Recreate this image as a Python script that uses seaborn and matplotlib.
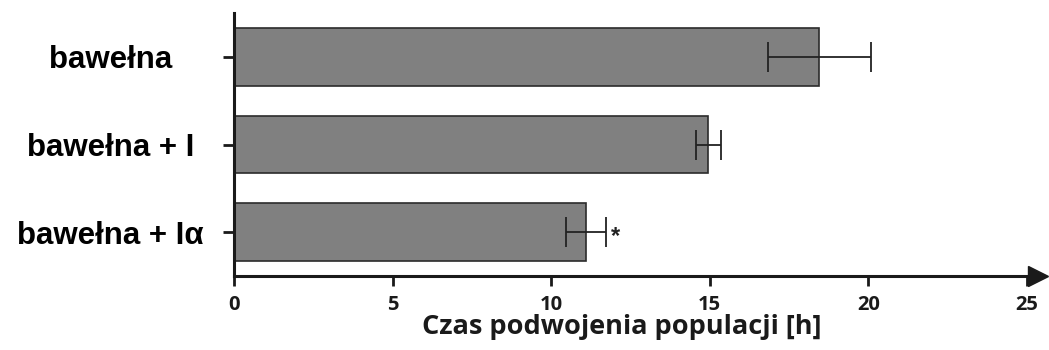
import matplotlib
matplotlib.use("Agg")
import matplotlib.pyplot as plt
import matplotlib.transforms as mtransforms
import seaborn as sns
import pandas as pd

# Population doubling time per culture condition
categories = ["bawełna", "bawełna + I", "bawełna + Iα"]
doubling_time = [18.45, 14.95, 11.1]
doubling_sd = [1.62, 0.39, 0.62]
significance = ["", "", "*"]
x_ticks = [0, 5, 10, 15, 20, 25]
x_label = "Czas podwojenia populacji [h]"

sns.set_theme(style="white")
plt.rcParams["font.family"] = ["Liberation Sans", "DejaVu Sans"]

df = pd.DataFrame({"warunek": categories, "czas": doubling_time})

fig = plt.figure(figsize=(10.49, 3.5), dpi=100)
ax = fig.add_axes([234 / 1049, 1 - 276 / 350, (1027 - 234) / 1049, (276 - 13) / 350])

sns.barplot(data=df, x="czas", y="warunek", orient="h", color="#808080",
            saturation=1, width=0.66, edgecolor="#2b2b2b", linewidth=1.2,
            errorbar=None, ax=ax)

ypos = list(range(len(categories)))
ax.errorbar(doubling_time, ypos, xerr=doubling_sd, fmt="none", ecolor="#222222",
            elinewidth=1.3, capsize=10.5, capthick=1.3, zorder=5)

for x, s, y, m in zip(doubling_time, doubling_sd, ypos, significance):
    if m:
        ax.annotate(m, xy=(x + s, y), xytext=(4, -3), textcoords="offset points",
                    ha="left", va="center", fontsize=17, fontweight="bold",
                    color="#222222")

ax.set_xlim(0, 25)
ax.set_ylim(2.5, -0.5)
ax.set_xticks(x_ticks)
ax.set_xticklabels([str(t) for t in x_ticks], fontfamily="Open Sans",
                   fontweight="bold", fontsize=14.5, color="#1a1a1a")
ax.set_xlabel(x_label, fontfamily="Open Sans", fontweight="bold",
              fontsize=19.5, color="#1a1a1a")
ax.xaxis.set_label_coords(0.489, -0.145)
ax.set_ylabel("")

ax.tick_params(axis="x", bottom=True, direction="out", length=7.5, width=2,
               color="#1a1a1a", pad=6)
ax.tick_params(axis="y", left=True, direction="out", length=8, width=2,
               color="#1a1a1a", pad=81)
for lab in ax.get_yticklabels():
    lab.set_horizontalalignment("center")
    lab.set_fontsize(22.5)
    lab.set_fontweight("bold")
    lab.set_color("black")

for side in ["top", "right"]:
    ax.spines[side].set_visible(False)
for side in ["left", "bottom"]:
    ax.spines[side].set_linewidth(2.2)
    ax.spines[side].set_color("#1a1a1a")

# Arrow head at the end of the x axis
arrow_tr = mtransforms.offset_copy(ax.transAxes, fig=fig, x=8, y=0, units="points")
ax.plot([1.0], [0.0], marker=">", markersize=15, color="#1a1a1a",
        transform=arrow_tr, clip_on=False, zorder=6)

fig.savefig("out.png", dpi=100)
